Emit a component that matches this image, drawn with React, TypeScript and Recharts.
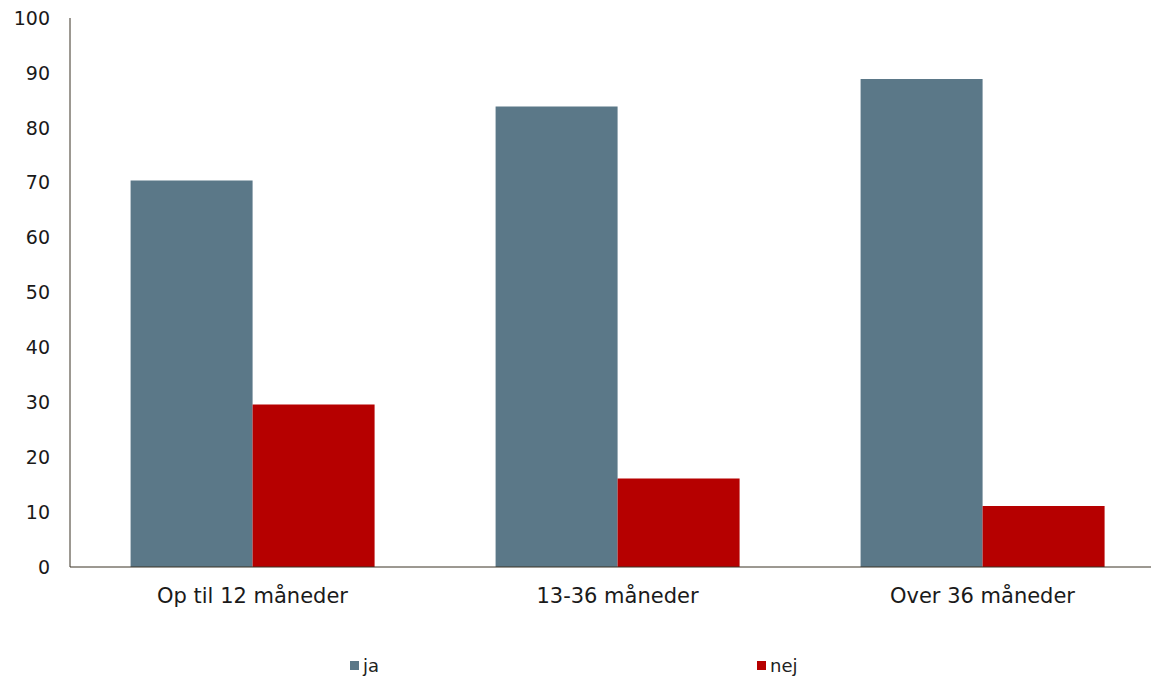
import { Bar, BarChart, Legend, XAxis, YAxis } from "recharts"

const categories = ["Op til 12 måneder", "13-36 måneder", "Over 36 måneder"]
const ja = [70.4, 83.9, 88.9]
const nej = [29.6, 16.1, 11.1]
const yTicks = [0, 10, 20, 30, 40, 50, 60, 70, 80, 90, 100]

const data = categories.map((name, i) => ({ name, ja: ja[i], nej: nej[i] }))

const FONT = "'DejaVu Sans', Verdana, sans-serif"
const AXIS = "#3a3324"
const COLORS = { ja: "#5b7888", nej: "#b60000" }

function LegendBox() {
  const items: { key: "ja" | "nej"; left: number }[] = [
    { key: "ja", left: 342 },
    { key: "nej", left: 749 },
  ]
  return (
    <div style={{ position: "relative", height: 20, fontFamily: FONT, fontSize: 18, color: "#222" }}>
      {items.map((it) => (
        <div
          key={it.key}
          style={{ position: "absolute", left: it.left, top: 0, display: "flex", alignItems: "center", height: 20 }}
        >
          <span style={{ width: 9, height: 9, background: COLORS[it.key], marginRight: 4, display: "inline-block" }} />
          <span>{it.key}</span>
        </div>
      ))}
    </div>
  )
}

export default function App() {
  // plot runs a few px past the window edge in the original, so clip it
  return (
    <div style={{ width: 1151, height: 669, overflow: "hidden" }}>
      <BarChart
        width={1157}
        height={669}
        data={data}
        margin={{ top: 10, right: 0, bottom: 2, left: 0 }}
        barCategoryGap="16.6%"
        barGap={0}
      >
        <XAxis
          dataKey="name"
          height={88}
          stroke={AXIS}
          tickLine={false}
          tickSize={0}
          tickMargin={21}
          tick={{ fill: "#1a1a1a", fontSize: 21, fontFamily: FONT }}
        />
        <YAxis
          domain={[0, 100]}
          ticks={yTicks}
          width={62}
          stroke={AXIS}
          tickLine={false}
          tickSize={0}
          tickMargin={20}
          interval={0}
          tick={{ fill: "#1a1a1a", fontSize: 19, fontFamily: FONT }}
        />
        <Legend verticalAlign="bottom" content={() => <LegendBox />} wrapperStyle={{ left: 0, width: 1151 }} />
        <Bar dataKey="ja" fill={COLORS.ja} isAnimationActive={false} />
        <Bar dataKey="nej" fill={COLORS.nej} isAnimationActive={false} />
      </BarChart>
    </div>
  )
}
